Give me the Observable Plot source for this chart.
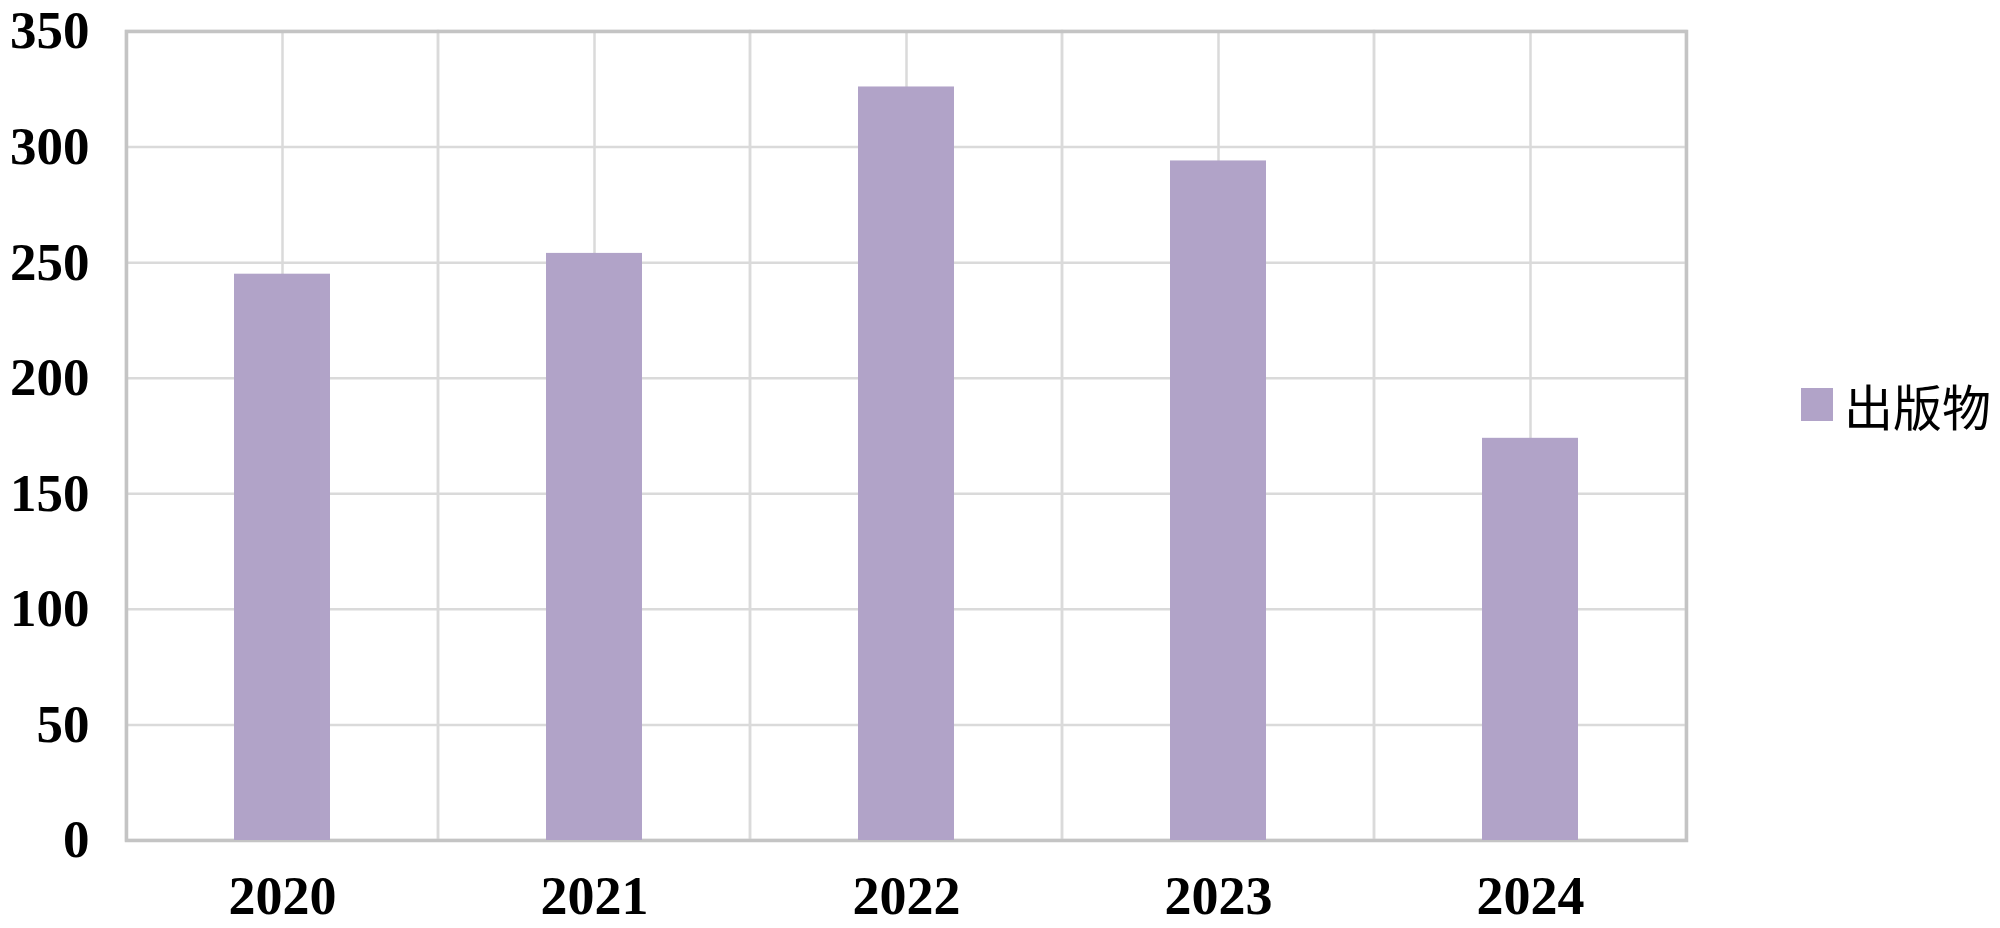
<!DOCTYPE html>
<html>
<head>
<meta charset="utf-8">
<script src="https://cdn.jsdelivr.net/npm/d3@7"></script>
<script src="https://cdn.jsdelivr.net/npm/@observablehq/plot@0.6"></script>
<style>
  html, body { margin: 0; padding: 0; background: #fff; }
  #wrap { position: relative; width: 2000px; height: 928px; }
  #legend { position: absolute; left: 1801px; top: 369px; display: flex; align-items: center;
    font-family: "Noto Sans CJK SC", sans-serif; font-size: 49px; color: #000; }
  #legend .sw { width: 32px; height: 33px; background: #B1A3C8; margin-right: 11px; }
</style>
</head>
<body>
<div id="wrap"><div id="legend"><div class="sw"></div><span id="legtext"></span></div></div>
<script>
const years = ["2020", "2021", "2022", "2023", "2024"];
const values = [245, 254, 326, 294, 174];
const seriesName = "出版物";
const yTicks = [0, 50, 100, 150, 200, 250, 300, 350];

const data = years.map((y, i) => ({year: y, value: values[i]}));
const barColor = "#B1A3C8";
const gridColor = "#dadada";

const chart = Plot.plot({
  width: 2000,
  height: 928,
  marginLeft: 126,
  marginRight: 314,
  marginTop: 31,
  marginBottom: 88,
  style: {fontFamily: "'Liberation Serif', 'Times New Roman', serif", fontWeight: "bold", fontSize: "53px", color: "#000", background: "#fff"},
  x: {domain: years, padding: 0, label: null, tickSize: 0, tickPadding: 35},
  y: {domain: [0, 350], ticks: yTicks, label: null, tickSize: 0, tickPadding: 37},
  marks: [
    Plot.ruleY(yTicks, {stroke: gridColor, strokeWidth: 2.5}),
    Plot.ruleX(years, {stroke: gridColor, strokeWidth: 2.5}),
    Plot.barY(years, {x: d => d, y1: 0, y2: 350, fill: "none", stroke: gridColor, strokeWidth: 2.5}),
    Plot.frame({stroke: "#c4c4c4", strokeWidth: 3.5}),
    Plot.barY(data, {x: "year", y: "value", fill: barColor, insetLeft: 108, insetRight: 108}),
    Plot.axisX({tickSize: 0, tickPadding: 35, fontSize: 54}),
    Plot.axisY({ticks: yTicks, tickSize: 0, tickPadding: 37, fontSize: 53})
  ]
});
document.getElementById("wrap").prepend(chart);
document.getElementById("legtext").textContent = seriesName;
</script>
</body>
</html>
